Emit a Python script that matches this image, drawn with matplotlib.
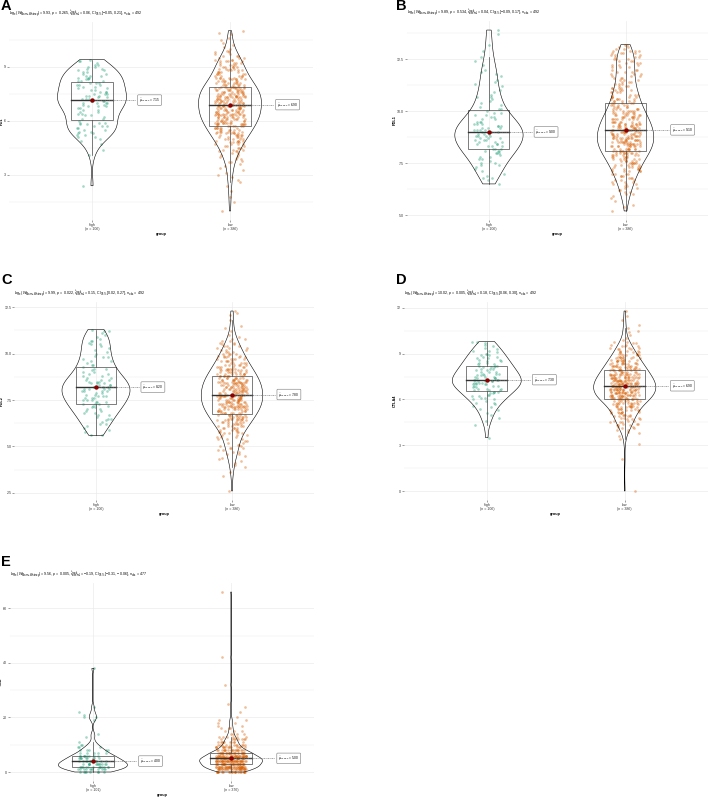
import numpy as np
import matplotlib
matplotlib.use('Agg')
import matplotlib.pyplot as plt
from matplotlib.patches import Rectangle

plt.rcParams['font.family'] = ['Liberation Sans', 'DejaVu Sans']
plt.rcParams['mathtext.fontset'] = 'custom'
plt.rcParams['mathtext.rm'] = 'Liberation Sans'
plt.rcParams['mathtext.it'] = 'Liberation Sans:italic'
plt.rcParams['mathtext.bf'] = 'Liberation Sans:bold'

W, H = 708, 797

groups = ['high', 'low']
group_colors = ['#1B9E77', '#D95F02']

# frequency tables read off the strips: {stem: counts for leaf digit 0..9}
# A-D: value = stem + leaf/10 ; E (TMB): value = stem*10 + leaf
pd1_high = {2: [0, 0, 0, 0, 1, 0, 0, 0, 0, 0], 4: [0, 1, 0, 0, 1, 0, 0, 1, 0, 1],
            5: [1, 2, 2, 2, 2, 2, 2, 3, 2, 3], 6: [1, 2, 1, 2, 2, 2, 2, 2, 3, 2],
            7: [4, 4, 3, 2, 3, 3, 3, 2, 2, 2], 8: [3, 3, 3, 2, 3, 3, 2, 2, 2, 2],
            9: [2, 2, 1, 2, 1, 0, 0, 0, 0, 0]}
pd1_low = {1: [1, 0, 0, 0, 0, 1, 0, 0, 1, 0], 2: [0, 1, 0, 0, 1, 0, 1, 1, 0, 1],
           3: [1, 1, 0, 1, 1, 1, 1, 2, 1, 2], 4: [2, 2, 2, 3, 3, 3, 3, 4, 4, 4],
           5: [5, 5, 6, 6, 6, 6, 7, 7, 8, 8], 6: [8, 8, 9, 9, 9, 9, 9, 9, 9, 8],
           7: [10, 10, 9, 9, 9, 9, 9, 9, 8, 8], 8: [7, 7, 6, 6, 6, 5, 5, 5, 4, 4],
           9: [5, 4, 4, 4, 3, 3, 3, 2, 2, 2], 10: [1, 1, 1, 1, 0, 1, 1, 0, 1, 1],
           11: [1, 0, 0, 0, 0, 0, 0, 0, 0, 0]}

pdl1_high = {6: [0, 0, 0, 0, 0, 1, 0, 1, 2, 1], 7: [1, 1, 1, 1, 2, 2, 1, 2, 2, 1],
             8: [3, 3, 3, 3, 3, 3, 3, 3, 4, 3], 9: [4, 4, 3, 3, 3, 3, 2, 2, 2, 2],
             10: [1, 2, 1, 1, 1, 1, 1, 2, 1, 1], 11: [1, 0, 1, 1, 1, 1, 0, 1, 1, 1],
             12: [1, 0, 1, 0, 1, 0, 1, 0, 0, 1], 13: [0, 0, 1, 0, 0, 0, 0, 1, 0, 1]}
pdl1_low = {5: [0, 0, 1, 0, 1, 1, 0, 1, 1, 1], 6: [2, 2, 2, 2, 2, 3, 3, 3, 3, 3],
            7: [4, 5, 5, 5, 5, 6, 6, 6, 6, 7], 8: [9, 9, 9, 10, 10, 10, 10, 10, 9, 9],
            9: [10, 10, 9, 9, 9, 8, 8, 8, 7, 7], 10: [6, 6, 5, 5, 5, 5, 5, 5, 4, 4],
            11: [4, 4, 3, 3, 3, 3, 3, 3, 3, 3], 12: [3, 3, 3, 3, 3, 3, 3, 3, 4, 4],
            13: [2, 2, 2, 0, 0, 0, 0, 0, 0, 0]}

pdl2_high = {5: [0, 0, 0, 0, 0, 0, 2, 0, 1, 1], 6: [1, 1, 2, 1, 1, 2, 1, 2, 2, 2],
             7: [2, 2, 2, 3, 3, 3, 3, 3, 2, 2], 8: [4, 4, 4, 3, 3, 3, 3, 2, 2, 2],
             9: [2, 1, 2, 1, 2, 1, 2, 1, 2, 1], 10: [1, 1, 1, 1, 1, 2, 1, 2, 1, 1],
             11: [1, 1, 2, 1, 0, 0, 0, 0, 0, 0]}
pdl2_low = {2: [0, 0, 0, 0, 0, 0, 1, 0, 0, 0], 3: [0, 0, 0, 0, 1, 0, 1, 0, 0, 1],
            4: [1, 1, 1, 1, 1, 1, 2, 2, 2, 3], 5: [2, 2, 2, 2, 3, 3, 3, 3, 4, 4],
            6: [5, 5, 6, 6, 6, 7, 7, 8, 8, 8], 7: [9, 9, 9, 10, 10, 10, 10, 10, 9, 9],
            8: [10, 10, 10, 9, 9, 9, 9, 8, 8, 8], 9: [7, 7, 6, 6, 6, 5, 5, 5, 4, 4],
            10: [4, 3, 3, 3, 3, 2, 2, 2, 2, 1], 11: [1, 0, 1, 0, 1, 1, 0, 0, 1, 0],
            12: [0, 1, 1, 1, 0, 0, 0, 0, 0, 0]}

ctla4_high = {3: [0, 0, 0, 0, 0, 1, 0, 0, 0, 0], 4: [0, 0, 0, 1, 0, 0, 1, 0, 1, 0],
              5: [1, 1, 0, 1, 1, 1, 1, 1, 2, 1], 6: [2, 2, 2, 2, 2, 3, 3, 3, 2, 3],
              7: [4, 4, 4, 4, 3, 3, 3, 3, 3, 2], 8: [3, 3, 3, 2, 2, 2, 2, 2, 2, 2],
              9: [2, 1, 2, 1, 1, 1, 1, 1, 2, 0]}
ctla4_low = {0: [1, 0, 0, 0, 0, 0, 0, 0, 0, 0], 2: [0, 1, 0, 0, 0, 0, 0, 0, 0, 0],
             3: [0, 1, 0, 0, 1, 0, 1, 0, 1, 1], 4: [2, 2, 2, 3, 3, 3, 3, 3, 3, 4],
             5: [4, 4, 5, 5, 5, 6, 6, 6, 7, 7], 6: [10, 10, 10, 10, 10, 11, 11, 11, 11, 11],
             7: [11, 11, 10, 10, 10, 9, 9, 9, 8, 8], 8: [8, 7, 7, 6, 6, 6, 6, 5, 5, 4],
             9: [4, 4, 3, 3, 3, 3, 2, 2, 2, 1], 10: [1, 0, 1, 0, 1, 1, 0, 1, 0, 1],
             11: [0, 0, 1, 0, 0, 1, 0, 0, 1, 0]}

tmb_high = {0: [8, 11, 14, 13, 12, 9, 9, 5, 5, 3], 1: [2, 1, 0, 1, 1, 0, 0, 0, 0, 1],
            2: [2, 1, 1, 0, 1, 0, 0, 0, 0, 0], 3: [0, 0, 0, 0, 0, 0, 0, 0, 1, 0]}
tmb_low = {0: [21, 30, 40, 40, 45, 43, 34, 30, 20, 15], 1: [11, 10, 8, 6, 4, 3, 3, 2, 2, 2],
           2: [1, 0, 1, 0, 1, 1, 0, 0, 0, 0], 3: [0, 0, 1, 0, 0, 0, 0, 0, 0, 0],
           4: [0, 0, 1, 0, 0, 0, 0, 0, 0, 0], 6: [0, 0, 0, 0, 0, 0, 1, 0, 0, 0]}

panel_letters = ['A', 'B', 'C', 'D', 'E']
y_labels = ['PD1', 'PDL1', 'PDL2', 'CTLA4', 'TMB']
y_ticks = [[3, 6, 9], [5, 7.5, 10, 12.5], [2.5, 5, 7.5, 10, 12.5], [0, 3, 6, 9, 12], [0, 20, 40, 60]]
y_ticklabels = [['3', '6', '9'], ['5.0', '7.5', '10.0', '12.5'], ['2.5', '5.0', '7.5', '10.0', '12.5'],
                ['0', '3', '6', '9', '12'], ['0', '20', '40', '60']]
w_stats = ['9.93', '9.89', '9.99', '10.02', '9.56']
p_vals = ['0.265', '0.534', '0.022', '0.005', '0.005']
r_vals = ['0.06', '0.04', '0.15', '0.18', '\u22120.19']
ci_vals = [('\u22120.05', '0.21'), ('\u22120.09', '0.17'), ('0.02', '0.27'), ('0.06', '0.30'),
           ('\u22120.31', '\u22120.06')]


def expand(table, stem_unit, leaf_unit):
    vals = []
    for stem, counts in table.items():
        for d, c in enumerate(counts):
            vals += [round(stem * stem_unit + d * leaf_unit, 2)] * c
    return np.array(vals, dtype=float)


def kde(v, grid):
    n = len(v)
    q1, q3 = np.percentile(v, [25, 75])
    bw = 0.9 * min(v.std(ddof=1), (q3 - q1) / 1.34) * n ** -0.2
    z = (grid[:, None] - v[None, :]) / bw
    return np.exp(-0.5 * z ** 2).sum(1) / (n * bw * np.sqrt(2 * np.pi))


def spread(n, seed):
    # deterministic hashed offsets in [-1, 1] for the horizontal jitter
    mask = (1 << 32) - 1
    out = []
    for i in range(n):
        h = (i + 1 + seed * 7919) & mask
        h = ((h ^ (h >> 16)) * 0x45d9f3b) & mask
        h = ((h ^ (h >> 16)) * 0x45d9f3b) & mask
        h = h ^ (h >> 16)
        out.append(h / mask)
    return 2 * np.array(out) - 1


def px_rect(l, r, t, b):
    return [l / W, 1 - b / H, (r - l) / W, (b - t) / H]


datasets = [
    (expand(pd1_high, 1, 0.1), expand(pd1_low, 1, 0.1)),
    (expand(pdl1_high, 1, 0.1), expand(pdl1_low, 1, 0.1)),
    (expand(pdl2_high, 1, 0.1), expand(pdl2_low, 1, 0.1)),
    (expand(ctla4_high, 1, 0.1), expand(ctla4_low, 1, 0.1)),
    (expand(tmb_high, 10, 1), expand(tmb_low, 10, 1)),
]

# pixel layout of each panel: plot area and letter position
rects = [(9.2, 312.8, 21.7, 220), (407, 707.5, 21, 220), (14.4, 313.6, 302, 500),
         (404, 707.5, 302, 500), (10, 314, 583, 781)]
letter_pos = [(1, -1), (396, -1), (1, 273), (396, 273), (1, 555)]

fig = plt.figure(figsize=(W / 100, H / 100), dpi=100)
grid_c = '#EBEBEB'
line_c = '#4A4A4A'

for k in range(5):
    ax = fig.add_axes(px_rect(*rects[k]))
    data = datasets[k]
    lo = min(d.min() for d in data)
    hi = max(d.max() for d in data)
    pad = 0.05 * (hi - lo)
    ax.set_xlim(0.4, 2.6)
    ax.set_ylim(lo - pad, hi + pad)
    for s in ax.spines.values():
        s.set_visible(False)

    ticks = y_ticks[k]
    step = ticks[1] - ticks[0]
    for t in ticks:
        ax.axhline(t, color=grid_c, lw=0.5, zorder=0)
    minor = np.arange(ticks[0] - step * 4.5, ticks[-1] + step * 4, step)
    for t in minor:
        if lo - pad < t < hi + pad:
            ax.axhline(t, color=grid_c, lw=0.3, zorder=0)
    for x0 in (1, 2):
        ax.axvline(x0, color=grid_c, lw=0.5, zorder=0)

    grids = [np.linspace(d.min(), d.max(), 512) for d in data]
    dens = [kde(d, g) for d, g in zip(data, grids)]
    dmax = max(de.max() for de in dens)

    for i, (d, g, de) in enumerate(zip(data, grids, dens)):
        x0 = i + 1
        jit = 0.11 * spread(len(d), 2 * k + i)
        ax.scatter(x0 + jit, d, s=3.6, c=group_colors[i], alpha=0.4, lw=0, zorder=2)

        q1, med, q3 = np.percentile(d, [25, 50, 75])
        iqr = q3 - q1
        wlo = d[d >= q1 - 1.5 * iqr].min()
        whi = d[d <= q3 + 1.5 * iqr].max()
        ax.plot([x0, x0], [q3, whi], color=line_c, lw=0.5, zorder=3)
        ax.plot([x0, x0], [wlo, q1], color=line_c, lw=0.5, zorder=3)
        ax.add_patch(Rectangle((x0 - 0.15, q1), 0.3, iqr, fill=False, ec=line_c,
                               lw=0.5, zorder=3))
        ax.plot([x0 - 0.15, x0 + 0.15], [med, med], color='#333333', lw=1.0, zorder=3)

        hw = 0.25 * de / dmax
        ax.fill_betweenx(g, x0 - hw, x0 + hw, facecolor='none', edgecolor='black',
                         lw=0.4, zorder=4)

        ax.plot([x0, x0 + 0.32], [med, med], color='#777777', lw=0.45,
                ls=(0, (3, 1.2, 1, 1.2)), zorder=5)
        ax.scatter([x0], [med], s=10, c='#8B0000', lw=0, zorder=6)
        ax.text(x0 + 0.34, med, '$\\widehat{\\mu}_{\\mathrm{median}}$ = %.2f' % med,
                fontsize=2.3, ha='left', va='center', zorder=7,
                bbox=dict(boxstyle='round,pad=0.4,rounding_size=0.3', fc='white',
                          ec='#777777', lw=0.4))

    ax.set_yticks(ticks)
    ax.set_yticklabels(y_ticklabels[k])
    ax.set_xticks([1, 2])
    ax.set_xticklabels(['%s\n(n = %d)' % (g, len(d)) for g, d in zip(groups, data)],
                       linespacing=1.0)
    ax.tick_params(axis='both', length=1.5, width=0.4, color='#555555', labelsize=2.6,
                   labelcolor='#333333', pad=0.6)
    ax.set_xlabel('group', fontsize=2.8, fontweight='bold', labelpad=0.6)
    ax.set_ylabel(y_labels[k], fontsize=2.8, fontweight='bold', labelpad=0.4)

    n_obs = len(data[0]) + len(data[1])
    sub = ('$\\log_{\\mathrm{e}}(W_{\\mathrm{Mann\u2013Whitney}})$ = %s, $\\mathit{p}$ = %s, '
           '$\\widehat{r}_{\\mathrm{biserial}}^{\\mathrm{rank}}$ = %s, CI$_{95\\%%}$ [%s, %s], '
           '$\\mathit{n}_{\\mathrm{obs}}$ = %d'
           % (w_stats[k], p_vals[k], r_vals[k], ci_vals[k][0], ci_vals[k][1], n_obs))
    ax.annotate(sub, xy=(0, 1), xycoords='axes fraction', xytext=(0, 2.0),
                textcoords='offset points', fontsize=2.6, ha='left', va='bottom')

    lx, ly = letter_pos[k]
    fig.text(lx / W, 1 - ly / H, panel_letters[k], fontsize=10.5, fontweight='bold',
             ha='left', va='top')

fig.savefig('out.png', dpi=100)
